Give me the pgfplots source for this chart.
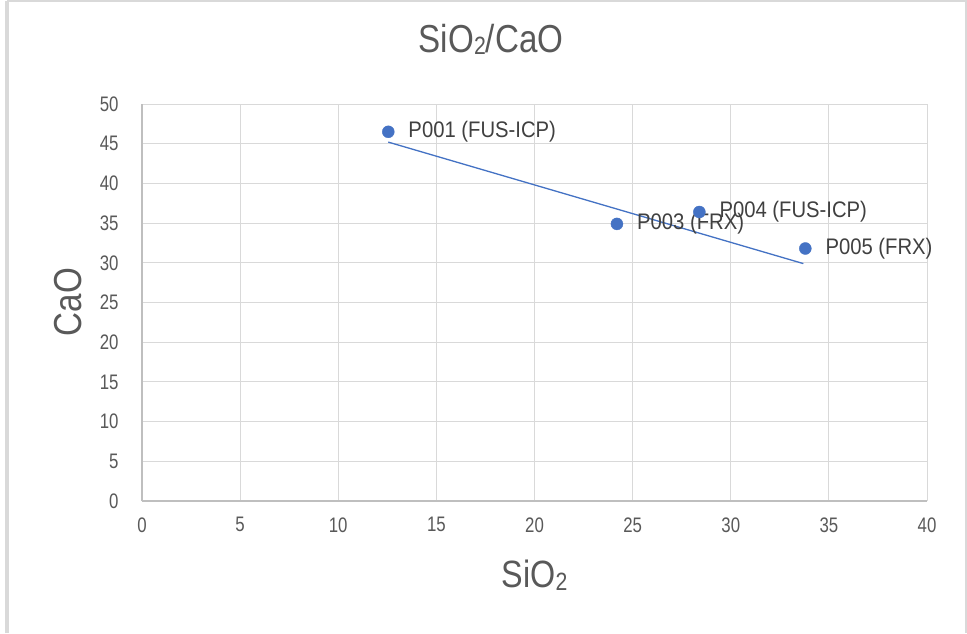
\documentclass[border=0pt]{standalone}
\usepackage{pgfplots}
\pgfplotsset{compat=1.18}
\usepackage{fontspec}
\setmainfont{Liberation Sans}
\newfontfamily\narrowfont{Liberation Sans}[FakeStretch=0.8]
\newfontfamily\semifont{Liberation Sans}[FakeStretch=0.85]
\newfontfamily\labfont{Liberation Sans}[FakeStretch=0.9]
\definecolor{ptblue}{HTML}{4472C4}
\definecolor{gridc}{HTML}{D9D9D9}
\definecolor{axisc}{HTML}{BFBFBF}
\definecolor{txt}{HTML}{595959}
\definecolor{lbl}{HTML}{404040}
\definecolor{framec}{HTML}{D9D9D9}
\begin{document}
\begin{tikzpicture}[x=1pt,y=1pt]
\useasboundingbox (0,0) rectangle (967,633);
\fill[white] (0,0) rectangle (967,633);
\draw[framec, line width=4pt] (7,0) -- (7,631.5);
\draw[framec, line width=2pt] (7,631.5) -- (966,631.5) -- (966,0);
\begin{axis}[
  at={(142pt,132pt)}, anchor=south west,
  width=785pt, height=397pt, scale only axis,
  xmin=0, xmax=40, ymin=0, ymax=50,
  xtick={0,5,...,40}, ytick={0,5,...,50},
  grid=major,
  major grid style={gridc, line width=1pt},
  axis line style={draw=none},
  axis x line*=bottom, axis y line*=left,
  tick style={draw=none},
  /pgf/number format/assume math mode=true,
  ticklabel style={font=\narrowfont\fontsize{21}{25}\selectfont, text=txt},
  xticklabel style={yshift=-13pt},
  yticklabel style={xshift=-20pt},
  title={SiO{\fontsize{25}{27}\selectfont\raisebox{-2pt}{2}}/CaO},
  title style={at={(axis description cs:0.4446,1.1486)}, anchor=center, font=\semifont\fontsize{39}{44}\selectfont, text=txt},
  xlabel={SiO{\fontsize{25}{27}\selectfont\raisebox{-3pt}{2}}},
  xlabel style={at={(axis description cs:0.5,-0.186)}, anchor=center, font=\semifont\fontsize{38}{43}\selectfont, text=txt},
  ylabel={CaO},
  ylabel style={at={(axis description cs:-0.0943,0.501)}, anchor=center, rotate=0, font=\semifont\fontsize{39}{44}\selectfont, text=txt},
  clip=false,
]
\draw[axisc, line width=1.2pt] (axis cs:0,0) -- (axis cs:40,0);
\draw[axisc, line width=1.2pt] (axis cs:0,0) -- (axis cs:0,50);
\addplot[no marks, color=ptblue, line width=1.3pt] coordinates {(12.55,45.2) (33.7,29.9)};
\addplot[only marks, mark=*, mark size=6pt, color=ptblue,
  point meta=explicit symbolic,
  nodes near coords,
  nodes near coords style={anchor=west, inner sep=0pt, xshift=20pt, font=\labfont\fontsize{22.5}{26}\selectfont, text=lbl}]
  coordinates {
  (12.55,46.5) [P001 (FUS-ICP)]
  (24.2,34.9) [P003 (FRX)]
  (28.4,36.4) [P004 (FUS-ICP)]
  (33.8,31.8) [P005 (FRX)]
};
\end{axis}
\end{tikzpicture}
\end{document}
